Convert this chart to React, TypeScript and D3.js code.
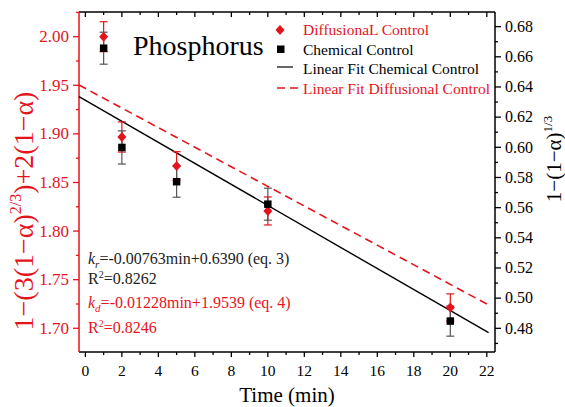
import React from 'react';
import * as d3 from 'd3';

// data
const times = [1, 2, 5, 10, 20];
// DiffusionaL Control, left axis
const diffValues = [2.0, 1.8968, 1.867, 1.8207, 1.7214];
const diffErrors = [0.0154, 0.0155, 0.0147, 0.0144, 0.014];
// Chemical Control, right axis
const chemValues = [0.6657, 0.5999, 0.5772, 0.5623, 0.4848];
const chemErrors = [0.0106, 0.011, 0.0103, 0.0106, 0.01];
// fitted lines as drawn
const fitDiffX = [-0.35, 22.1];
const fitDiffY = [1.9503, 1.724];
const fitChemX = [-0.35, 22.1];
const fitChemY = [0.6336, 0.4771];

const xMajor = [0, 2, 4, 6, 8, 10, 12, 14, 16, 18, 20, 22];
const xMinor = [1, 3, 5, 7, 9, 11, 13, 15, 17, 19, 21];
const leftMajor = [1.7, 1.75, 1.8, 1.85, 1.9, 1.95, 2.0];
const leftMinor = [1.725, 1.775, 1.825, 1.875, 1.925, 1.975, 2.025];
const rightMajor = [0.48, 0.5, 0.52, 0.54, 0.56, 0.58, 0.6, 0.62, 0.64, 0.66, 0.68];
const rightMinor = [0.47, 0.49, 0.51, 0.53, 0.55, 0.57, 0.59, 0.61, 0.63, 0.65, 0.67];

const RED = '#e5131b';
const FONT = '"Liberation Serif", serif';

const left = 79, right = 495, top = 12, bottom = 352;
const x = d3.scaleLinear().domain([-0.35, 22.45]).range([left, right]);
const yL = d3.scaleLinear().domain([1.6756, 2.0254]).range([bottom, top]);
const yR = d3.scaleLinear().domain([0.4643, 0.6897]).range([bottom, top]);
const f2 = d3.format('.2f');

const diamond = (cx: number, cy: number) =>
    `M${cx},${cy - 5}L${cx + 4.5},${cy}L${cx},${cy + 5}L${cx - 4.5},${cy}Z`;

function ErrBars({ vals, errs, scale, color }) {
    return (
        <g stroke={color} strokeWidth={1.2}>
            {times.map((t, i) => {
                const cx = x(t);
                const y1 = scale(vals[i] + errs[i]);
                const y2 = scale(vals[i] - errs[i]);
                return (
                    <g key={t}>
                        <line x1={cx} x2={cx} y1={y1} y2={y2} />
                        <line x1={cx - 4} x2={cx + 4} y1={y1} y2={y1} />
                        <line x1={cx - 4} x2={cx + 4} y1={y2} y2={y2} />
                    </g>
                );
            })}
        </g>
    );
}

export default function App() {
    const lineL = d3.line<number>().x((d, i) => x(fitDiffX[i])).y(d => yL(d));
    const lineR = d3.line<number>().x((d, i) => x(fitChemX[i])).y(d => yR(d));
    const txt = { fontFamily: FONT };

    return (
        <svg width={565} height={407} style={{ position: 'absolute', left: 0, top: 0, background: '#fff' }}>
            {/* ticks */}
            <g stroke="#000" strokeWidth={1.3}>
                {xMajor.map(v => <line key={'b' + v} x1={x(v)} x2={x(v)} y1={bottom} y2={bottom + 5} />)}
                {xMinor.map(v => <line key={'bm' + v} x1={x(v)} x2={x(v)} y1={bottom} y2={bottom + 3} />)}
                {xMajor.map(v => <line key={'t' + v} x1={x(v)} x2={x(v)} y1={top} y2={top + 5} />)}
                {xMinor.map(v => <line key={'tm' + v} x1={x(v)} x2={x(v)} y1={top} y2={top + 3} />)}
                {rightMajor.map(v => <line key={'r' + v} x1={right} x2={right + 6} y1={yR(v)} y2={yR(v)} />)}
                {rightMinor.map(v => <line key={'rm' + v} x1={right} x2={right + 3} y1={yR(v)} y2={yR(v)} />)}
            </g>
            <g stroke={RED} strokeWidth={1.3}>
                {leftMajor.map(v => <line key={'l' + v} x1={left - 6} x2={left} y1={yL(v)} y2={yL(v)} />)}
                {leftMinor.map(v => <line key={'lm' + v} x1={left - 3} x2={left} y1={yL(v)} y2={yL(v)} />)}
            </g>
            <g style={{ ...txt, fontSize: '15.5px' }} textAnchor="middle">
                {xMajor.map(v => <text key={v} x={x(v)} y={bottom + 24}>{v}</text>)}
            </g>
            <g style={{ ...txt, fontSize: '17px' }} textAnchor="end" fill={RED}>
                {leftMajor.map(v => <text key={v} x={left - 10} y={yL(v) + 5.6}>{f2(v)}</text>)}
            </g>
            <g style={{ ...txt, fontSize: '16px' }} fill="#000">
                {rightMajor.map(v => <text key={v} x={right + 10} y={yR(v) + 5.3}>{f2(v)}</text>)}
            </g>

            {/* frame */}
            <g strokeWidth={1.5}>
                <line x1={left} x2={right} y1={top} y2={top} stroke="#000" />
                <line x1={left} x2={right} y1={bottom} y2={bottom} stroke="#000" />
                <line x1={right} x2={right} y1={top} y2={bottom} stroke="#000" />
                <line x1={left} x2={left} y1={top} y2={bottom} stroke={RED} />
            </g>

            {/* fits */}
            <path d={lineR(fitChemY) || ''} stroke="#000" strokeWidth={1.4} fill="none" />
            <path d={lineL(fitDiffY) || ''} stroke={RED} strokeWidth={1.6} strokeDasharray="8,5" fill="none" />

            <ErrBars vals={diffValues} errs={diffErrors} scale={yL} color={RED} />
            <ErrBars vals={chemValues} errs={chemErrors} scale={yR} color="#555" />
            {times.map((t, i) => <path key={'d' + t} d={diamond(x(t), yL(diffValues[i]))} fill={RED} />)}
            {times.map((t, i) => (
                <rect key={'s' + t} x={x(t) - 3.75} y={yR(chemValues[i]) - 3.75} width={7.5} height={7.5} fill="#000" />
            ))}

            {/* legend */}
            <path d={diamond(280, 30)} fill={RED} />
            <rect x={277} y={45.5} width={7.5} height={7.5} fill="#000" />
            <line x1={277} x2={293} y1={67} y2={67} stroke="#000" strokeWidth={1.2} />
            <line x1={277} x2={300} y1={88} y2={88} stroke={RED} strokeWidth={1.5} strokeDasharray="8,5" />
            <g style={{ ...txt, fontSize: '15.5px' }}>
                <text x={303} y={35} fill={RED}>DiffusionaL Control</text>
                <text x={303} y={54.5} fill="#000">Chemical Control</text>
                <text x={303} y={74} fill="#000">Linear Fit Chemical Control</text>
                <text x={303} y={93.5} fill={RED}>Linear Fit Diffusional Control</text>
            </g>

            <text x={133} y={55} style={{ ...txt, fontSize: '28px' }} fill="#000">Phosphorus</text>

            {/* equations */}
            <g style={{ ...txt, fontSize: '16px' }}>
                <text x={88} y={264} fill="#222">
                    <tspan fontStyle="italic">k</tspan>
                    <tspan fontStyle="italic" style={{ fontSize: '11px' }} dy={4}>r</tspan>
                    <tspan dy={-4}>=-0.00763min+0.6390 (eq. 3)</tspan>
                </text>
                <text x={88} y={284} fill="#222">
                    <tspan>R</tspan>
                    <tspan style={{ fontSize: '10px' }} dy={-6}>2</tspan>
                    <tspan dy={6}>=0.8262</tspan>
                </text>
                <text x={88} y={308} fill={RED}>
                    <tspan fontStyle="italic">k</tspan>
                    <tspan fontStyle="italic" style={{ fontSize: '11px' }} dy={4}>d</tspan>
                    <tspan dy={-4}>=-0.01228min+1.9539 (eq. 4)</tspan>
                </text>
                <text x={88} y={333} fill={RED}>
                    <tspan>R</tspan>
                    <tspan style={{ fontSize: '10px' }} dy={-6}>2</tspan>
                    <tspan dy={6}>=0.8246</tspan>
                </text>
            </g>

            {/* axis titles */}
            <text x={287} y={402} textAnchor="middle" style={{ ...txt, fontSize: '21px' }}>Time (min)</text>
            <text transform="translate(33,211) rotate(-90)" textAnchor="middle" fill={RED}
                style={{ ...txt, fontSize: '28px' }}>
                <tspan>1−(3(1−α)</tspan>
                <tspan style={{ fontSize: '16px' }} dy={-12}>2/3</tspan>
                <tspan dy={12}>)+2(1−α)</tspan>
            </text>
            <text transform="translate(561,159) rotate(-90)" textAnchor="middle" fill="#000"
                style={{ ...txt, fontSize: '21px' }}>
                <tspan>1−(1−α)</tspan>
                <tspan style={{ fontSize: '13px' }} dy={-9}>1/3</tspan>
            </text>
        </svg>
    );
}
